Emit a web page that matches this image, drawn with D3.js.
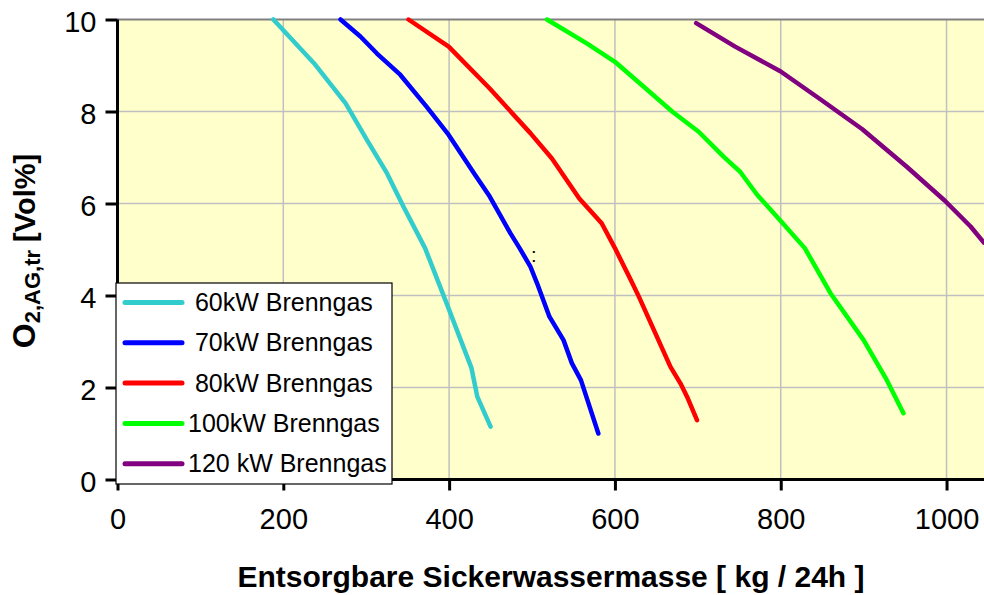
<!DOCTYPE html>
<html>
<head>
<meta charset="utf-8">
<script src="https://cdn.jsdelivr.net/npm/d3@7"></script>
<style>
  html, body { margin: 0; padding: 0; background: #ffffff; }
  svg { display: block; font-family: "Liberation Sans", Arial, sans-serif; }
</style>
</head>
<body>
<svg id="chart" width="984" height="595"></svg>
<script>
// ---- data ----
const seriesNames = [" 60kW Brenngas", " 70kW Brenngas", " 80kW Brenngas", "100kW Brenngas", "120 kW Brenngas"];
const seriesColors = ["#33CCCC", "#0000FF", "#FF0000", "#00FF00", "#800080"];
const xTicks = [0, 200, 400, 600, 800, 1000];
const yTicks = [0, 2, 4, 6, 8, 10];

const kw60 = [[188,10],[237,9.05],[275,8.18],[301,7.38],[325,6.66],[345,5.93],[371,5.03],[397,3.83],[427,2.42],[434,1.8],[450,1.15]];
const kw70 = [[269,10],[293,9.63],[313,9.26],[341,8.8],[373,8.1],[399.5,7.49],[430,6.66],[449,6.15],[474,5.35],[485,5.03],[498,4.63],[506,4.27],[521,3.54],[538,3.03],[548,2.53],[559,2.16],[580,1.0]];
const kw80 = [[351,10],[399.5,9.41],[449,8.5],[498,7.53],[524,6.98],[557,6.11],[584,5.57],[600,5.03],[619,4.34],[629,3.97],[667,2.45],[679,2.09],[687,1.8],[699,1.29]];
const kw100 = [[518,10],[566,9.48],[600,9.08],[632,8.58],[669,8.0],[701,7.56],[731,7.02],[751,6.69],[772,6.18],[800,5.62],[829,5.03],[860,4.05],[900,3.03],[928,2.16],[948,1.44]];
const kw120 = [[698,9.92],[745,9.41],[800,8.87],[849,8.25],[898,7.62],[952,6.8],[998,6.06],[1029,5.5],[1045,5.15]];
const allSeries = [kw60, kw70, kw80, kw100, kw120];

const xTitle = "Entsorgbare Sickerwassermasse [ kg / 24h ]";
const strayMark = { x: 502, y: 4.73, text: ":" };

// ---- layout ----
const svg = d3.select("#chart");
const pLeft = 117.5, pTop = 19.5, pBottom = 479.5, pRight = 988;
const x = d3.scaleLinear().domain([0, 1050]).range([pLeft, pRight]);
const y = d3.scaleLinear().domain([0, 10]).range([pBottom, pTop]);

// plot background
svg.append("rect").attr("x", pLeft).attr("y", pTop)
  .attr("width", pRight - pLeft).attr("height", pBottom - pTop)
  .attr("fill", "#FFFFCC");

// grid
svg.append("g").selectAll("line").data(yTicks.filter(d => d > 0 && d < 10)).join("line")
  .attr("x1", pLeft).attr("x2", pRight).attr("y1", d => y(d)).attr("y2", d => y(d))
  .attr("stroke", "#C0C0C0").attr("stroke-width", 1.5);
svg.append("g").selectAll("line").data(xTicks.filter(d => d > 0)).join("line")
  .attr("y1", pTop).attr("y2", pBottom).attr("x1", d => x(d)).attr("x2", d => x(d))
  .attr("stroke", "#C0C0C0").attr("stroke-width", 1.5);

// top border
svg.append("line").attr("x1", pLeft).attr("x2", pRight).attr("y1", pTop).attr("y2", pTop)
  .attr("stroke", "#808080").attr("stroke-width", 2);

// clip
svg.append("clipPath").attr("id", "plotclip").append("rect")
  .attr("x", pLeft).attr("y", pTop - 5).attr("width", pRight - pLeft).attr("height", pBottom - pTop + 10);

const line = d3.line().x(d => x(d[0])).y(d => y(d[1]));
svg.append("g").attr("clip-path", "url(#plotclip)")
  .selectAll("path").data(allSeries).join("path")
  .attr("d", line)
  .attr("fill", "none")
  .attr("stroke", (d, i) => seriesColors[i])
  .attr("stroke-width", 4.5)
  .attr("stroke-linecap", "round")
  .attr("stroke-linejoin", "round");

// stray mark
svg.append("text").attr("x", x(strayMark.x)).attr("y", y(strayMark.y))
  .attr("text-anchor", "middle").attr("font-size", 20).attr("fill", "#000")
  .text(strayMark.text);

// axes
const yAxis = d3.axisLeft(y).tickValues(yTicks).tickSize(12).tickPadding(10).tickFormat(d3.format("d"));
const gy = svg.append("g").attr("transform", `translate(${pLeft},0)`).call(yAxis);
gy.select(".domain").attr("stroke", "#000").attr("stroke-width", 3).attr("d", `M0,${pTop}V${pBottom}`);
gy.selectAll(".tick line").attr("stroke", "#000").attr("stroke-width", 3);
gy.selectAll(".tick text").attr("font-size", 29).attr("fill", "#000")
  .attr("font-family", "Liberation Sans, Arial, sans-serif").attr("dy", "0.4em").attr("x", -21);

const xAxis = d3.axisBottom(x).tickValues(xTicks).tickSize(11).tickPadding(14).tickFormat(d3.format("d"));
const gx = svg.append("g").attr("transform", `translate(0,${pBottom})`).call(xAxis);
gx.select(".domain").attr("stroke", "#000").attr("stroke-width", 3).attr("d", `M${pLeft},0H${pRight}`);
gx.selectAll(".tick line").attr("stroke", "#000").attr("stroke-width", 3);
gx.selectAll(".tick text").attr("font-size", 29).attr("fill", "#000")
  .attr("font-family", "Liberation Sans, Arial, sans-serif").attr("dy", "0").attr("y", 49);

// axis titles
svg.append("text").attr("x", 551).attr("y", 587)
  .attr("text-anchor", "middle").attr("font-size", 30).attr("font-weight", "bold")
  .attr("fill", "#000").text(xTitle);

const yt = svg.append("text")
  .attr("transform", "translate(35,251) rotate(-90)")
  .attr("text-anchor", "middle").attr("font-weight", "bold").attr("fill", "#000");
yt.append("tspan").attr("font-size", 32).text("O");
yt.append("tspan").attr("font-size", 22).attr("dy", 5).text("2,AG,tr");
yt.append("tspan").attr("font-size", 29).attr("dy", -5).text(" [Vol%]");

// legend
const lg = svg.append("g");
lg.append("rect").attr("x", 116).attr("y", 283).attr("width", 276).attr("height", 201)
  .attr("fill", "#fff").attr("stroke", "#000").attr("stroke-width", 1.2);
const rowY = i => 302.5 + i * 40.3;
lg.selectAll("line.leg").data(seriesNames).join("line").attr("class", "leg")
  .attr("x1", 125).attr("x2", 182).attr("y1", (d, i) => rowY(i)).attr("y2", (d, i) => rowY(i))
  .attr("stroke", (d, i) => seriesColors[i]).attr("stroke-width", 5).attr("stroke-linecap", "round");
lg.selectAll("text.leg").data(seriesNames).join("text").attr("class", "leg")
  .attr("x", 188).attr("y", (d, i) => rowY(i) + 8.5)
  .attr("font-size", 25).attr("fill", "#000").style("white-space", "pre")
  .text(d => d);
</script>
</body>
</html>
